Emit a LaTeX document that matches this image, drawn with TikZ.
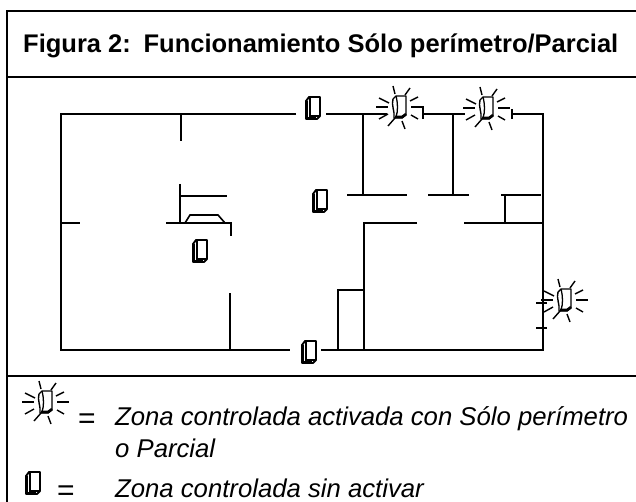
\documentclass[tikz,border=0pt]{standalone}
\usepackage{fontspec}
\setmainfont{Liberation Sans}
\tikzstyle{frameline} = [line width=2pt,line cap=rect]
\tikzstyle{wall} = [line width=1.6pt,line cap=butt]
\tikzstyle{ray} = [line width=1.4pt]
\tikzstyle{title} = [anchor=base west,inner sep=0pt,font=\fontsize{25.5}{26}\selectfont\bfseries]
\tikzstyle{legend} = [anchor=base west,inner sep=0pt,font=\fontsize{25.7}{26}\selectfont\itshape]
\tikzstyle{equals} = [anchor=base,inner sep=0pt,font=\fontsize{30}{30}\selectfont]
\tikzset{
	zona/.pic={
		\draw[line width=1.9pt,line join=round] (-7,-7) -- (-4,-11) -- (7,-11) -- (7,8) -- (4,11) -- (-7,11) -- cycle;
		\draw[line width=1.6pt] (-3,-10) -- (-3,8) -- (6,8);
		\draw[line width=2.4pt] (-6,-7) -- (-6,10) -- (3,10);
	},
	zonaluz/.pic={
		\draw[line width=1.4pt,line join=round] (-6,-8) -- (-3,-11) -- (7,-11) -- (7,8) -- (3,11) -- (-5,11) .. controls (-4,4) and (-8,-2) .. (-6,-8);
		\draw[line width=1.3pt] (-3,-11) .. controls (-1,-3) and (-1,4) .. (-3,10);
		\draw[line width=2.6pt] (-4,10) -- (3,10) -- (7,7);
		\foreach \xa/\ya/\xb/\yb in {-20/-9/-10/-4,-6/-21/-4/-13,11/-19/6/-12,19/-10/11/-6,12/0/24/0,19/12/12/8,6/22/3/14,-11/19/-4/11,-20/12/-11/7,-23/0/-11/0}
			\draw[ray] (\xa,\ya) -- (\xb,\yb);
	}
}
\begin{document}
\begin{tikzpicture}[x=1pt,y=-1pt]
	\useasboundingbox (0,0) rectangle (636,502);
	
	% frame, open on the right
	\draw[frameline] (636,11) -- (7,11) -- (7,502);
	\draw[frameline] (7,77) -- (636,77);
	\draw[frameline] (7,376) -- (636,376);
	\node[title] (heading) at (23,53) {Figura 2:\enspace Funcionamiento Sólo perímetro/Parcial};
	
	% outer walls
	\draw[wall] (296,114) -- (61,114) -- (61,350) -- (290,350);
	\draw[wall] (321,350) -- (543,350) -- (543,114) -- (513,114);
	\draw[wall] (326,114) -- (387,114);
	\draw[wall] (412,107) -- (423,107) -- (423,119);
	\draw[wall] (423,114) -- (465,114);
	\draw[wall] (512,109) -- (512,119);
	\draw[wall] (536,303) -- (547,303);
	\draw[wall] (536,328) -- (547,328);
	
	% left rooms
	\draw[wall] (181,114) -- (181,141);
	\draw[wall] (61,223) -- (80,223);
	\draw[wall] (180,184) -- (180,223);
	\draw[wall] (180,196) -- (227,196);
	\draw[wall] (166,223) -- (231,223) -- (231,236);
	\draw[wall] (185,223) -- (190,215) -- (218,215) -- (225,223);
	\draw[wall] (230,293) -- (230,350);
	
	% right rooms
	\draw[wall] (363,114) -- (363,195);
	\draw[wall] (453,114) -- (453,195);
	\draw[wall] (347,195) -- (407,195);
	\draw[wall] (428,195) -- (469,195);
	\draw[wall] (501,195) -- (541,195);
	\draw[wall] (505,195) -- (505,223);
	\draw[wall] (417,223) -- (364,223) -- (364,350);
	\draw[wall] (464,223) -- (543,223);
	\draw[wall] (364,290) -- (338,290) -- (338,350);
	
	\pic at (313,108) {zona};
	\pic at (320,201) {zona};
	\pic at (200,251) {zona};
	\pic at (309,352) {zona};
	\pic at (399,107) {zonaluz};
	\pic at (486,108) {zonaluz};
	\pic at (564,300) {zonaluz};
	
	% key
	\pic at (45,402) {zonaluz};
	\node[equals] (eq1) at (87,428) {=};
	\node[legend] (lit1) at (115,425) {Zona controlada activada con Sólo perímetro};
	\node[legend] (lit2) at (115,457) {o Parcial};
	\pic at (33,483) {zona};
	\node[equals] (eq2) at (66,500) {=};
	\node[legend] (off) at (115,497) {Zona controlada sin activar};
\end{tikzpicture}
\end{document}
